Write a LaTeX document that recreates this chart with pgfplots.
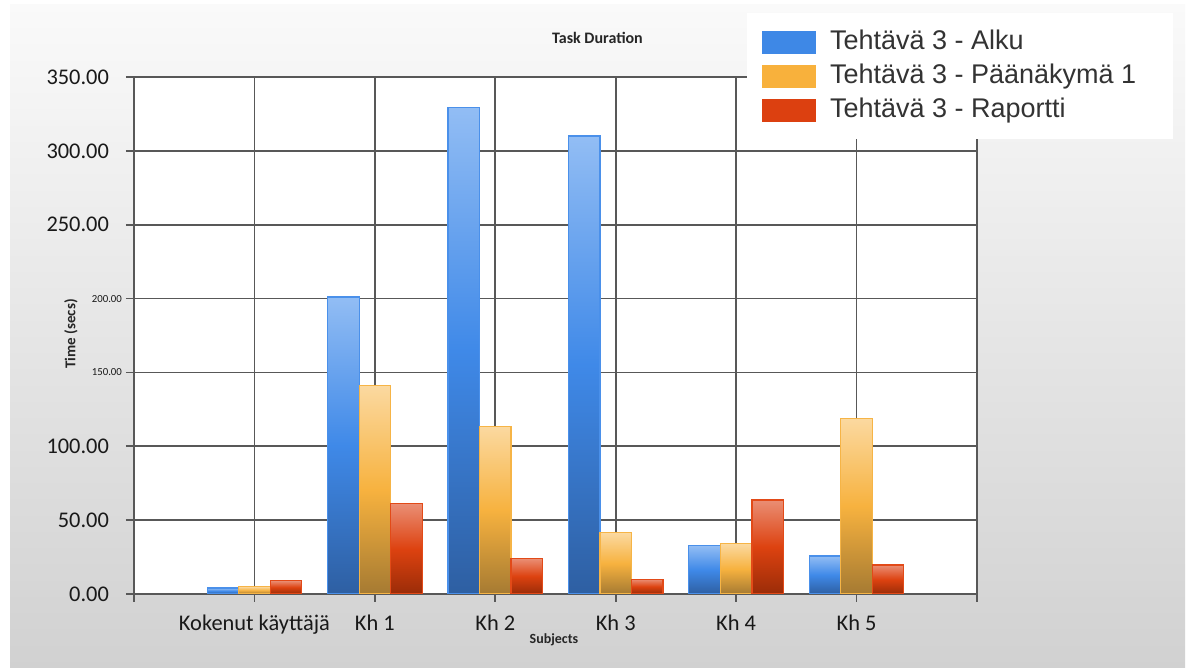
\documentclass[border=0pt]{standalone}
\usepackage{fontspec}
\setmainfont{Carlito}
\newfontfamily\legendfont{Liberation Sans}
\usepackage{pgfplots}
\pgfplotsset{compat=1.18}

\definecolor{gridc}{HTML}{585858}
\definecolor{bluetop}{HTML}{92BDF4}
\definecolor{bluemid}{HTML}{3F89E8}
\definecolor{bluebot}{HTML}{2E5FA2}
\definecolor{bluedraw}{HTML}{4A90EA}
\definecolor{blueflat}{HTML}{3E88E6}
\definecolor{orgtop}{HTML}{FBD9A0}
\definecolor{orgmid}{HTML}{F7B23F}
\definecolor{orgbot}{HTML}{A57A32}
\definecolor{orgdraw}{HTML}{F6B446}
\definecolor{orgflat}{HTML}{F8B13C}
\definecolor{redtop}{HTML}{EA8E74}
\definecolor{redmid}{HTML}{DD4210}
\definecolor{redbot}{HTML}{9A2C08}
\definecolor{reddraw}{HTML}{E24A18}
\definecolor{redflat}{HTML}{DC4010}

% one bar per \addplot, so that every bar gets its own vertical gradient
\pgfplotsset{
  barbase/.style={ybar, bar width=0.2616, line width=0.6pt, forget plot},
  alku/.style={barbase, bar shift=-0.2616, draw=bluedraw,
    top color=bluetop, bottom color=bluebot, middle color=bluemid},
  paanakyma/.style={barbase, bar shift=0, draw=orgdraw,
    top color=orgtop, bottom color=orgbot, middle color=orgmid},
  raportti/.style={barbase, bar shift=0.2616, draw=reddraw,
    top color=redtop, bottom color=redbot, middle color=redmid},
}

\begin{document}
\begin{tikzpicture}[x=0.5pt,y=0.5pt]
% page and panel background
\fill[white] (0,0) rectangle (1189,669);
\shade[top color=white!98!black, bottom color=black!18] (10,1) rectangle (1185,664);

% titles
\node[font=\fontsize{8}{9}\selectfont\bfseries, text=black!85] at (597.5,631.5) {Task Duration};
\node[font=\fontsize{7}{8}\selectfont\bfseries, text=black!85] at (554,29) {Subjects};
\node[font=\fontsize{7.5}{9}\selectfont\bfseries, text=black!85, rotate=90] at (71,335) {Time (secs)};

\begin{axis}[
  at={(67pt,37.5pt)}, anchor=south west,
  scale only axis, width=421.5pt, height=258.5pt,
  xmin=0, xmax=7, ymin=0, ymax=350,
  axis background/.style={fill=white},
  grid=major,
  major grid style={draw=gridc, line width=0.8pt},
  axis line style={draw=gridc, line width=0.8pt},
  tick style={draw=gridc, line width=0.8pt},
  tick align=outside, major tick length=4pt,
  tick pos=left,
  xtick={0,1,2,3,4,5,6,7},
  xticklabels={{},Kokenut käyttäjä,Kh 1,Kh 2,Kh 3,Kh 4,Kh 5,{}},
  xticklabel style={font=\fontsize{11.2}{13}\selectfont, text=black!90, yshift=-3pt},
  ytick={0,50,100,150,200,250,300,350},
  yticklabels={0.00,50.00,100.00,
    {\fontsize{5.4}{6}\selectfont 150.00\hspace*{-6.5pt}},
    {\fontsize{5.4}{6}\selectfont 200.00\hspace*{-6.5pt}},
    250.00,300.00,350.00},
  yticklabel style={font=\fontsize{11.2}{13}\selectfont, text=black!90, xshift=-5pt},
  legend cell align=left,
  legend style={at={(0.727,1.124)}, anchor=north west, fill=white, draw=none,
    font=\legendfont\fontsize{13.5}{16}\selectfont, text=black!80,
    inner xsep=7.5pt, inner ysep=6pt, row sep=0pt,
    nodes={inner sep=2pt, text height=10pt, text depth=3pt}},
]
% Tehtävä 3 - Alku
\addplot[alku] coordinates {(1,4)};
\addplot[alku] coordinates {(2,201)};
\addplot[alku] coordinates {(3,329.5)};
\addplot[alku] coordinates {(4,310)};
\addplot[alku] coordinates {(5,32.7)};
\addplot[alku] coordinates {(6,25.7)};
% Tehtävä 3 - Päänäkymä 1
\addplot[paanakyma] coordinates {(1,5)};
\addplot[paanakyma] coordinates {(2,141)};
\addplot[paanakyma] coordinates {(3,113.5)};
\addplot[paanakyma] coordinates {(4,41.5)};
\addplot[paanakyma] coordinates {(5,34)};
\addplot[paanakyma] coordinates {(6,119)};
% Tehtävä 3 - Raportti
\addplot[raportti] coordinates {(1,9)};
\addplot[raportti] coordinates {(2,61)};
\addplot[raportti] coordinates {(3,24)};
\addplot[raportti] coordinates {(4,10)};
\addplot[raportti] coordinates {(5,63.6)};
\addplot[raportti] coordinates {(6,19.6)};

\addlegendimage{legend image code/.code={\fill[blueflat] (0pt,-5.5pt) rectangle (26.5pt,5.5pt);}}
\addlegendentry{\hspace*{5pt}Tehtävä 3 - Alku}
\addlegendimage{legend image code/.code={\fill[orgflat] (0pt,-5.5pt) rectangle (26.5pt,5.5pt);}}
\addlegendentry{\hspace*{5pt}Tehtävä 3 - Päänäkymä 1\hspace*{9pt}}
\addlegendimage{legend image code/.code={\fill[redflat] (0pt,-5.5pt) rectangle (26.5pt,5.5pt);}}
\addlegendentry{\hspace*{5pt}Tehtävä 3 - Raportti}
\end{axis}
\end{tikzpicture}
\end{document}
